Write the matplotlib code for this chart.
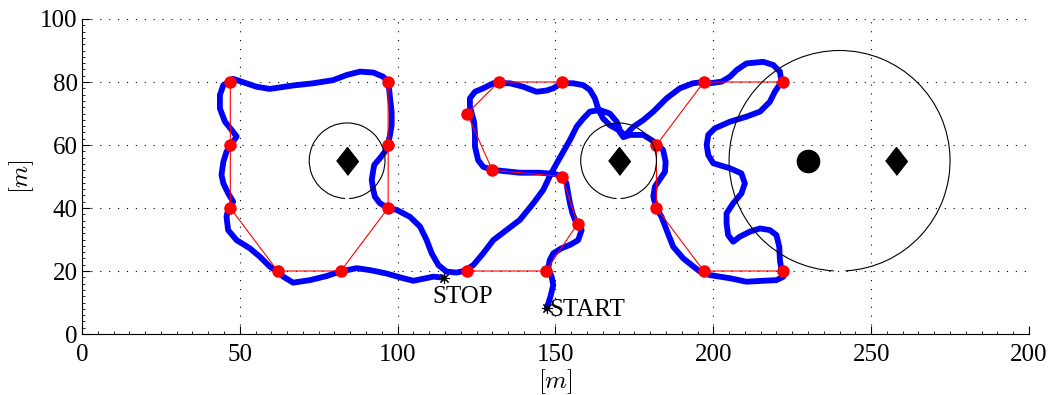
import matplotlib
matplotlib.use('Agg')
import matplotlib.pyplot as plt
from matplotlib.patches import Arc
from matplotlib.ticker import MultipleLocator

plt.rcParams['font.family'] = ['Liberation Serif', 'DejaVu Serif']
plt.rcParams['mathtext.fontset'] = 'cm'

# robot trajectory (blue)
traj_x = [147.2, 148.4, 149.3, 148.8, 147.7, 148.2, 149.3, 151.9, 154.6, 157.2, 158.3, 157.2, 156.2, 155.4,
          154.6, 154.0, 153.5, 152.5, 149.8, 145.0, 138.7, 133.0, 129.8, 127.1, 125.5, 124.5, 124.5, 124.2,
          122.9, 122.9, 124.5, 127.1, 130.3, 135.6, 139.8, 144.0, 147.2, 149.3, 151.9, 155.6, 158.8, 160.9,
          162.5, 163.5, 165.1, 167.2, 169.9, 171.5, 173.6, 177.8, 180.4, 182.5, 184.1, 184.9, 184.7, 183.6,
          181.5, 181.0, 182.0, 183.6, 185.2, 187.3, 190.5, 193.1, 195.8, 198.9, 205.3, 210.5, 215.8, 220.0,
          222.2, 221.6, 221.1, 220.9, 220.0, 217.9, 214.8, 211.6, 208.4, 206.3, 204.7, 204.2, 204.2, 206.3,
          208.9, 210.0, 208.9, 205.3, 200.0, 198.4, 197.9, 198.4, 200.5, 205.3, 210.5, 214.8, 217.9, 219.5,
          221.6, 221.1, 219.0, 215.8, 210.5, 207.4, 205.3, 202.6, 198.9, 196.8, 193.6, 189.4, 185.2, 181.0,
          177.8, 174.7, 172.0, 170.5, 169.4, 167.2, 164.1, 160.9, 158.8, 156.7, 154.6, 152.5, 150.4, 148.4,
          146.1, 143.0, 138.7, 134.5, 130.3, 127.1, 124.0, 121.3, 118.7, 115.5, 112.9, 110.8, 109.2, 107.1,
          103.9, 99.7, 97.0, 94.4, 92.8, 92.3, 91.8, 92.3, 92.6, 94.4, 96.0, 97.0, 97.6, 98.1, 98.1, 97.6,
          97.3, 97.0, 95.4, 92.3, 88.1, 83.8, 79.6, 73.3, 66.9, 59.5, 55.3, 51.1, 47.9, 44.8, 43.7, 43.7,
          45.3, 47.4, 49.0, 47.9, 45.8, 44.8, 44.2, 44.8, 46.3, 47.9, 46.3, 45.8, 46.3, 49.0, 53.2, 56.4,
          59.5, 61.9, 63.8, 66.9, 72.2, 77.5, 81.7, 87.0, 91.2, 96.5, 101.8, 105.0, 111.3, 114.6]
traj_y = [8.1, 11.8, 15.5, 18.2, 20.9, 23.5, 25.6, 27.2, 28.3, 29.8, 33.0, 34.6, 36.2, 38.3,
          41.5, 44.7, 47.8, 49.9, 50.8, 51.2, 51.2, 51.8, 52.1, 53.1, 55.2, 59.5, 63.7, 67.4,
          72.2, 74.8, 76.9, 78.0, 79.6, 79.6, 78.5, 76.9, 77.3, 78.0, 79.6, 79.6, 79.0, 77.5,
          74.8, 71.6, 68.4, 66.3, 64.8, 62.5, 63.2, 63.2, 61.6, 60.0, 58.4, 54.7, 51.5, 49.9,
          46.8, 43.6, 39.9, 37.2, 33.0, 27.7, 24.0, 21.9, 19.8, 18.7, 17.7, 16.6, 16.9, 17.1,
          18.2, 20.3, 23.5, 27.7, 31.4, 33.0, 33.5, 32.5, 30.9, 29.3, 31.4, 35.1, 38.3, 41.5,
          44.6, 47.8, 51.0, 52.6, 54.2, 56.8, 60.0, 63.2, 65.3, 67.4, 69.0, 70.6, 73.7, 76.9,
          80.1, 83.3, 85.4, 86.4, 85.9, 83.8, 81.7, 80.1, 79.6, 80.0, 79.6, 78.0, 74.8, 70.6,
          67.9, 65.8, 63.0, 64.5, 67.4, 70.0, 71.1, 70.6, 68.4, 65.8, 61.6, 57.9, 54.2, 50.5,
          45.7, 41.5, 36.2, 33.0, 29.8, 25.6, 21.9, 20.1, 19.5, 19.8, 21.9, 25.6, 29.8, 34.1,
          37.2, 39.4, 40.0, 41.5, 43.6, 45.7, 48.9, 52.1, 53.7, 55.8, 57.9, 60.5, 63.2, 66.3, 70.6, 74.8,
          78.0, 80.1, 81.7, 83.0, 83.3, 82.2, 80.6, 79.6, 78.9, 77.8, 78.5, 79.9, 81.0, 79.0, 75.9, 71.6,
          67.4, 64.8, 62.7, 61.1, 57.9, 54.7, 50.5, 47.8, 44.7, 42.0, 39.5, 37.2, 33.0, 29.8, 27.2, 24.5,
          21.4, 19.8, 18.2, 16.3, 17.1, 18.4, 19.8, 20.9, 20.3, 19.2, 17.7, 16.9, 18.2, 17.9]

# waypoints of the letters U, S, C (red)
u_x = [47, 47, 47, 62, 82, 97, 97, 97]
u_y = [80, 60, 40, 20, 20, 40, 60, 80]
s_x = [122, 147, 157, 152, 130, 122, 132, 152]
s_y = [20, 20, 35, 50, 52, 70, 80, 80]
c_x = [222, 197, 182, 182, 197, 222]
c_y = [80, 80, 60, 40, 20, 20]

# obstacles / landmarks
ring_x = [84, 170, 240]
ring_y = [55, 55, 55]
ring_r = [12, 12, 35]
diamond_x = [84, 170, 258]
diamond_y = [55, 55, 55]
dot_x = [230]
dot_y = [55]

start_xy = (147.2, 8.1)
stop_xy = (114.7, 17.8)

xticks = [0, 50, 100, 150, 200, 250, 300]
xtick_labels = ['0', '50', '100', '150', '200', '250', '200']
yticks = [0, 20, 40, 60, 80, 100]

fig = plt.figure(figsize=(10.52, 3.95), dpi=100)
ax = fig.add_axes([0.0779, 0.1544, 0.9002, 0.7975])

ax.plot(traj_x, traj_y, color='#0000ff', linewidth=4.2, solid_joinstyle='round',
        solid_capstyle='round', zorder=3)

for wx, wy in [(u_x, u_y), (s_x, s_y), (c_x, c_y)]:
    ax.plot(wx, wy, color='red', linewidth=0.8, zorder=4)
    ax.plot(wx, wy, 'o', color='red', markersize=9, markeredgewidth=0, zorder=5)

for cx, cy, r in zip(ring_x, ring_y, ring_r):
    ax.add_patch(Arc((cx, cy), 2 * r, 2 * r, theta1=-87, theta2=267,
                     color='black', linewidth=0.8, zorder=6))

diamond = [(-0.78, 0), (0, 1), (0.78, 0), (0, -1)]
ax.plot(diamond_x, diamond_y, linestyle='none', marker=diamond, markersize=20,
        color='black', zorder=6)
ax.plot(dot_x, dot_y, 'o', color='black', markersize=16, zorder=6)

ax.plot(*start_xy, linestyle='none', marker=(8, 2, 0), markersize=8, color='black',
        markeredgewidth=0.8, zorder=7)
ax.plot(*stop_xy, linestyle='none', marker=(8, 2, 0), markersize=8, color='black',
        markeredgewidth=0.8, zorder=7)
ax.text(148.0, 5.7, 'START', fontsize=18, va='baseline', ha='left', zorder=7)
ax.text(111.0, 9.9, 'STOP', fontsize=18, va='baseline', ha='left', zorder=7)

ax.set_xlim(0, 300)
ax.set_ylim(0, 100)
ax.set_xticks(xticks)
ax.set_xticklabels(xtick_labels)
ax.set_yticks(yticks)
ax.xaxis.set_minor_locator(MultipleLocator(5))
ax.yaxis.set_minor_locator(MultipleLocator(2))
ax.tick_params(which='major', direction='in', length=6, width=0.8, labelsize=18)
ax.tick_params(axis='x', which='major', pad=7)
ax.tick_params(axis='y', which='major', pad=3)
ax.tick_params(which='minor', direction='in', length=2.5, width=0.6)
ax.spines['top'].set_visible(False)
ax.spines['right'].set_visible(False)
for s in ['left', 'bottom']:
    ax.spines[s].set_linewidth(0.8)

ax.grid(True, which='major', color='black', linestyle=(0, (1, 7)), linewidth=0.8)
ax.set_axisbelow(True)

ax.set_xlabel(r'$[m]$', fontsize=18, labelpad=1)
ax.set_ylabel(r'$[m]$', fontsize=18, labelpad=3)

fig.savefig('out.png', dpi=100)
